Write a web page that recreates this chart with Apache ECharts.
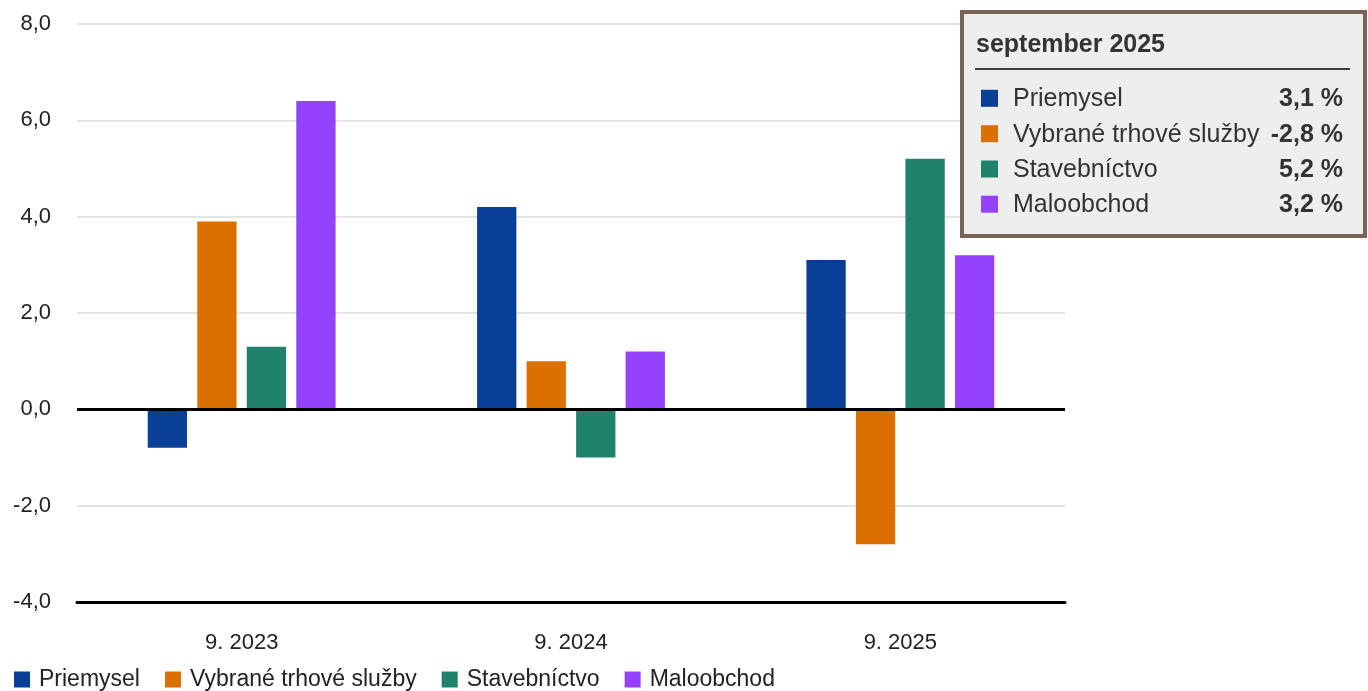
<!DOCTYPE html>
<html>
<head>
<meta charset="utf-8">
<script src="https://cdn.jsdelivr.net/npm/echarts@6/dist/echarts.min.js"></script>
<style>
html,body{margin:0;padding:0;background:#fff;}
#chart{width:1368px;height:691px;}
</style>
</head>
<body>
<div id="chart"></div>
<script>
// ---- data ----
var categories = ['9. 2023', '9. 2024', '9. 2025'];
var seriesNames = ['Priemysel', 'Vybrané trhové služby', 'Stavebníctvo', 'Maloobchod'];
var priemysel = [-0.8, 4.2, 3.1];
var sluzby = [3.9, 1.0, -2.8];
var stavebnictvo = [1.3, -1.0, 5.2];
var maloobchod = [6.4, 1.2, 3.2];
var yTicks = [-4, -2, 0, 2, 4, 6, 8];
var tooltipTitle = 'september 2025';

var colors = ['#0a3f97', '#d97000', '#1f826b', '#9542ff'];
var seriesValues = [priemysel, sluzby, stavebnictvo, maloobchod];
var FONT = '"Liberation Sans", Arial, sans-serif';

function fmt(v) { return v.toFixed(1).replace('.', ','); }

var series = seriesNames.map(function (name, i) {
  var s = {
    name: name,
    type: 'bar',
    data: seriesValues[i],
    barWidth: 39.3,
    barGap: '26%',
    itemStyle: { color: colors[i] }
  };
  if (i === 0) {
    s.markLine = {
      silent: true,
      symbol: ['none', 'none'],
      label: { show: false },
      lineStyle: { color: '#000', width: 3, type: 'solid' },
      data: [{ yAxis: 0 }],
      z: 10
    };
  }
  return s;
});

// tooltip-like box built from the last category's values
var last = categories.length - 1;
var boxX = 962, boxY = 12, boxW = 403, boxH = 224;
var rowY = [98.3, 133.7, 169, 204.2];
var boxChildren = [
  { type: 'rect', z: 100, shape: { x: boxX, y: boxY, width: boxW, height: boxH },
    style: { fill: '#eeeeee', stroke: '#7a6259', lineWidth: 4 } },
  { type: 'text', z: 101, x: 976, y: 45.5,
    style: { text: tooltipTitle, font: 'bold 25px ' + FONT, fill: '#333', verticalAlign: 'middle', align: 'left' } },
  { type: 'line', z: 101, shape: { x1: 975, y1: 69, x2: 1350, y2: 69 },
    style: { stroke: '#000', lineWidth: 1.5 } }
];
seriesNames.forEach(function (name, i) {
  boxChildren.push({ type: 'rect', z: 101, shape: { x: 981, y: rowY[i] - 8.5, width: 17, height: 17 },
    style: { fill: colors[i] } });
  boxChildren.push({ type: 'text', z: 101, x: 1013, y: rowY[i] + 1,
    style: { text: name, font: '25px ' + FONT, fill: '#333', verticalAlign: 'middle', align: 'left' } });
  boxChildren.push({ type: 'text', z: 101, x: 1343, y: rowY[i] + 1,
    style: { text: fmt(seriesValues[i][last]) + ' %', font: 'bold 25px ' + FONT, fill: '#333', verticalAlign: 'middle', align: 'right' } });
});

var chart = echarts.init(document.getElementById('chart'), null, { renderer: 'canvas' });
chart.setOption({
  animation: false,
  backgroundColor: '#fff',
  textStyle: { fontFamily: FONT },
  grid: { left: 77, right: 303, top: 24, bottom: 89, containLabel: false },
  legend: {
    left: 14, top: 668, padding: 0,
    itemWidth: 16, itemHeight: 16, itemGap: 25,
    icon: 'rect',
    textStyle: { fontSize: 23, color: '#222', fontFamily: FONT, padding: [0, 0, 0, 4] },
    data: seriesNames
  },
  xAxis: {
    type: 'category',
    data: categories,
    axisLine: { onZero: false, lineStyle: { color: '#000', width: 3 } },
    axisTick: { alignWithLabel: true, length: 11, lineStyle: { color: '#cccccc', width: 2 } },
    axisLabel: { fontSize: 22, color: '#222', margin: 30, fontFamily: FONT },
    splitLine: { show: false }
  },
  yAxis: {
    type: 'value',
    min: yTicks[0],
    max: yTicks[yTicks.length - 1],
    interval: 2,
    axisLine: { show: false },
    axisTick: { show: false },
    axisLabel: { fontSize: 22, color: '#222', margin: 26, fontFamily: FONT, padding: [4, 0, 0, 0],
      formatter: function (v) { return fmt(v); } },
    splitLine: { lineStyle: { color: '#e3e3e3', width: 2 } }
  },
  graphic: [{ type: 'group', z: 100, zlevel: 1, children: boxChildren }],
  series: series
});
</script>
</body>
</html>
